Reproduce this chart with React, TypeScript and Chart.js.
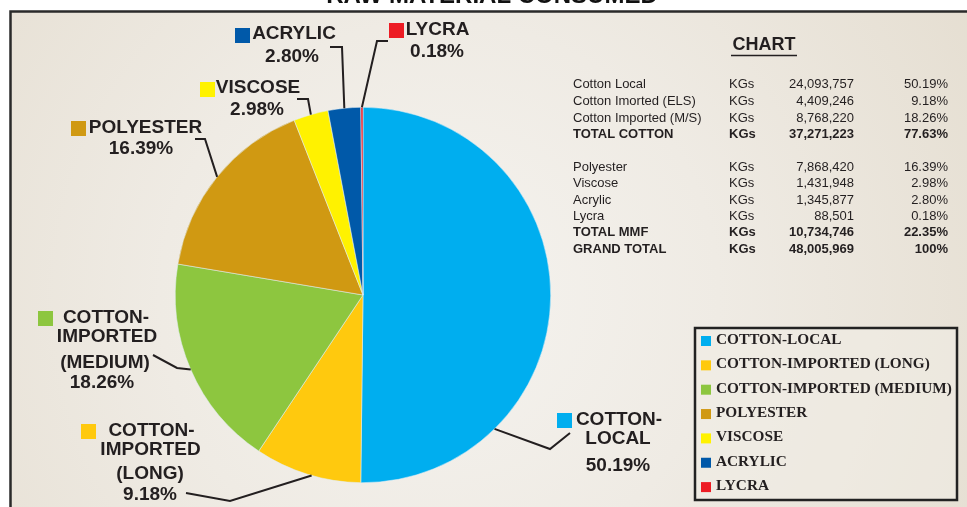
import React, { useEffect, useRef } from "react";
import { Chart, registerables } from "chart.js";

Chart.register(...registerables);

// ---------- data ----------
const chartTitle = "RAW MATERIAL CONSUMED";
const categories = [
  "COTTON-LOCAL",
  "COTTON-IMPORTED (LONG)",
  "COTTON-IMPORTED (MEDIUM)",
  "POLYESTER",
  "VISCOSE",
  "ACRYLIC",
  "LYCRA",
];
const kgValues = [24093757, 4409246, 8768220, 7868420, 1431948, 1345877, 88501];
const percentLabels = ["50.19%", "9.18%", "18.26%", "16.39%", "2.98%", "2.80%", "0.18%"];
const sliceColors = ["#00AEEF", "#FFC90E", "#8DC63F", "#D09912", "#FFF200", "#0059A9", "#ED1C24"];
const calloutNames = [
  ["COTTON-", "LOCAL"],
  ["COTTON-", "IMPORTED", "(LONG)"],
  ["COTTON-", "IMPORTED", "(MEDIUM)"],
  ["POLYESTER"],
  ["VISCOSE"],
  ["ACRYLIC"],
  ["LYCRA"],
];

const tableTitle = "CHART";
const tableNames = [
  "Cotton Local",
  "Cotton Imorted (ELS)",
  "Cotton Imported (M/S)",
  "TOTAL COTTON",
  "Polyester",
  "Viscose",
  "Acrylic",
  "Lycra",
  "TOTAL MMF",
  "GRAND TOTAL",
];
const tableUnits = ["KGs", "KGs", "KGs", "KGs", "KGs", "KGs", "KGs", "KGs", "KGs", "KGs"];
const tableAmounts = [
  "24,093,757",
  "4,409,246",
  "8,768,220",
  "37,271,223",
  "7,868,420",
  "1,431,948",
  "1,345,877",
  "88,501",
  "10,734,746",
  "48,005,969",
];
const tablePercents = ["50.19%", "9.18%", "18.26%", "77.63%", "16.39%", "2.98%", "2.80%", "0.18%", "22.35%", "100%"];
const tableBold = [false, false, false, true, false, false, false, false, true, true];

// ---------- layout (positions only) ----------
const tableRowY = [84, 101, 118, 134, 167, 183.5, 200, 216, 232, 249];
const anchorFrac = [0.75, 0.46, 0.5, 0.5, 0.5, 0.5, 0.5];
const leaderElbow = [
  [550, 449],
  [230, 501],
  [177, 368],
  [205, 139],
  [308, 99],
  [342, 47],
  [377, 41],
];
const leaderEnd = [
  [570, 433],
  [186, 493],
  [153, 355],
  [195, 139],
  [297, 99],
  [330, 47],
  [388, 41],
];
const calloutSquare = [
  [557, 413],
  [81, 424],
  [38, 311],
  [71, 121],
  [200, 82],
  [235, 28],
  [389, 23],
];
// line centers: names..., then percent
const calloutLines = [
  [[619, 420], [618, 438.5], [618, 465.5]],
  [[151.5, 431], [150.5, 450], [150, 474], [150, 494.5]],
  [[106, 318], [107, 337], [105, 362.5], [102, 383]],
  [[145.5, 128], [141, 149]],
  [[258, 88], [257, 110]],
  [[294, 34], [292, 57]],
  [[437.5, 30], [437, 51.7]],
];

const INK = "#231F20";
const SANS = "'Liberation Sans', Arial, Helvetica, sans-serif";
const SERIF = "'Liberation Serif', 'Times New Roman', serif";

const decor = {
  id: "decor",
  beforeDraw(chart: any) {
    const ctx: CanvasRenderingContext2D = chart.ctx;
    ctx.save();
    ctx.fillStyle = "#ffffff";
    ctx.fillRect(0, 0, 967, 507);
    const g = ctx.createRadialGradient(440, 300, 0, 440, 300, 620);
    g.addColorStop(0, "#F5F3EF");
    g.addColorStop(0.45, "#EFEBE4");
    g.addColorStop(1, "#E5DED1");
    ctx.fillStyle = g;
    ctx.fillRect(10, 11, 960, 500);
    ctx.strokeStyle = "#2a2a2a";
    ctx.lineWidth = 2.5;
    ctx.beginPath();
    ctx.moveTo(10.5, 512);
    ctx.lineTo(10.5, 11.5);
    ctx.lineTo(972, 11.5);
    ctx.stroke();
    ctx.fillStyle = "#111";
    ctx.font = `bold 24px ${SANS}`;
    ctx.textAlign = "center";
    ctx.textBaseline = "alphabetic";
    ctx.fillText(chartTitle, 492, 2.5);
    ctx.restore();
  },
  afterDraw(chart: any) {
    const ctx: CanvasRenderingContext2D = chart.ctx;
    const meta = chart.getDatasetMeta(0);
    ctx.save();

    // leader lines
    ctx.strokeStyle = INK;
    ctx.lineWidth = 2;
    ctx.lineJoin = "miter";
    meta.data.forEach((arc: any, i: number) => {
      const p = arc.getProps(["x", "y", "startAngle", "endAngle", "outerRadius"], true);
      const a = p.startAngle + anchorFrac[i] * (p.endAngle - p.startAngle);
      const ax = p.x + p.outerRadius * Math.cos(a);
      const ay = p.y + p.outerRadius * Math.sin(a);
      ctx.beginPath();
      ctx.moveTo(ax, ay);
      ctx.lineTo(leaderElbow[i][0], leaderElbow[i][1]);
      ctx.lineTo(leaderEnd[i][0], leaderEnd[i][1]);
      ctx.stroke();
    });

    // callouts
    ctx.textAlign = "center";
    ctx.textBaseline = "middle";
    ctx.font = `bold 19px ${SANS}`;
    categories.forEach((_, i) => {
      ctx.fillStyle = sliceColors[i];
      ctx.fillRect(calloutSquare[i][0], calloutSquare[i][1], 15, 15);
      ctx.fillStyle = INK;
      const lines = [...calloutNames[i], percentLabels[i]];
      lines.forEach((t, j) => {
        ctx.fillText(t, calloutLines[i][j][0], calloutLines[i][j][1]);
      });
    });

    // table
    ctx.fillStyle = INK;
    ctx.font = `bold 18px ${SANS}`;
    ctx.textAlign = "center";
    ctx.fillText(tableTitle, 764, 45.5);
    ctx.strokeStyle = INK;
    ctx.lineWidth = 1.5;
    ctx.beginPath();
    ctx.moveTo(731, 55.5);
    ctx.lineTo(797, 55.5);
    ctx.stroke();
    tableNames.forEach((name, i) => {
      const y = tableRowY[i];
      ctx.font = `${tableBold[i] ? "bold " : ""}13px ${SANS}`;
      ctx.textAlign = "left";
      ctx.fillText(name, 573, y);
      ctx.fillText(tableUnits[i], 729, y);
      ctx.textAlign = "right";
      ctx.fillText(tableAmounts[i], 854, y);
      ctx.fillText(tablePercents[i], 948, y);
    });

    // legend box
    ctx.strokeStyle = "#222";
    ctx.lineWidth = 2.5;
    ctx.fillStyle = "rgba(240,236,229,0.6)";
    ctx.fillRect(695, 328, 262, 172);
    ctx.strokeRect(695, 328, 262, 172);
    ctx.font = `bold 15.3px ${SERIF}`;
    ctx.textAlign = "left";
    categories.forEach((c, i) => {
      const y = 340 + i * 24.35;
      ctx.fillStyle = sliceColors[i];
      ctx.fillRect(701, y - 4, 10, 10);
      ctx.fillStyle = INK;
      ctx.fillText(c, 716, y);
    });

    ctx.restore();
  },
};

export default function App() {
  const ref = useRef<HTMLCanvasElement>(null);
  useEffect(() => {
    document.body.style.margin = "0";
    const chart = new Chart(ref.current as HTMLCanvasElement, {
      type: "pie",
      data: {
        labels: categories,
        datasets: [
          {
            data: kgValues,
            backgroundColor: sliceColors,
            borderColor: "rgba(225,238,245,0.9)",
            borderWidth: 0.6,
          },
        ],
      },
      options: {
        responsive: false,
        animation: false,
        devicePixelRatio: 1,
        layout: { padding: { left: 175, right: 416, top: 107, bottom: 24 } },
        plugins: { legend: { display: false }, tooltip: { enabled: false } },
      },
      plugins: [decor],
    } as any);
    return () => chart.destroy();
  }, []);
  return (
    <div style={{ position: "fixed", left: 0, top: 0, width: 967, height: 507 }}>
      <canvas ref={ref} width={967} height={507} style={{ width: 967, height: 507, display: "block" }} />
    </div>
  );
}
